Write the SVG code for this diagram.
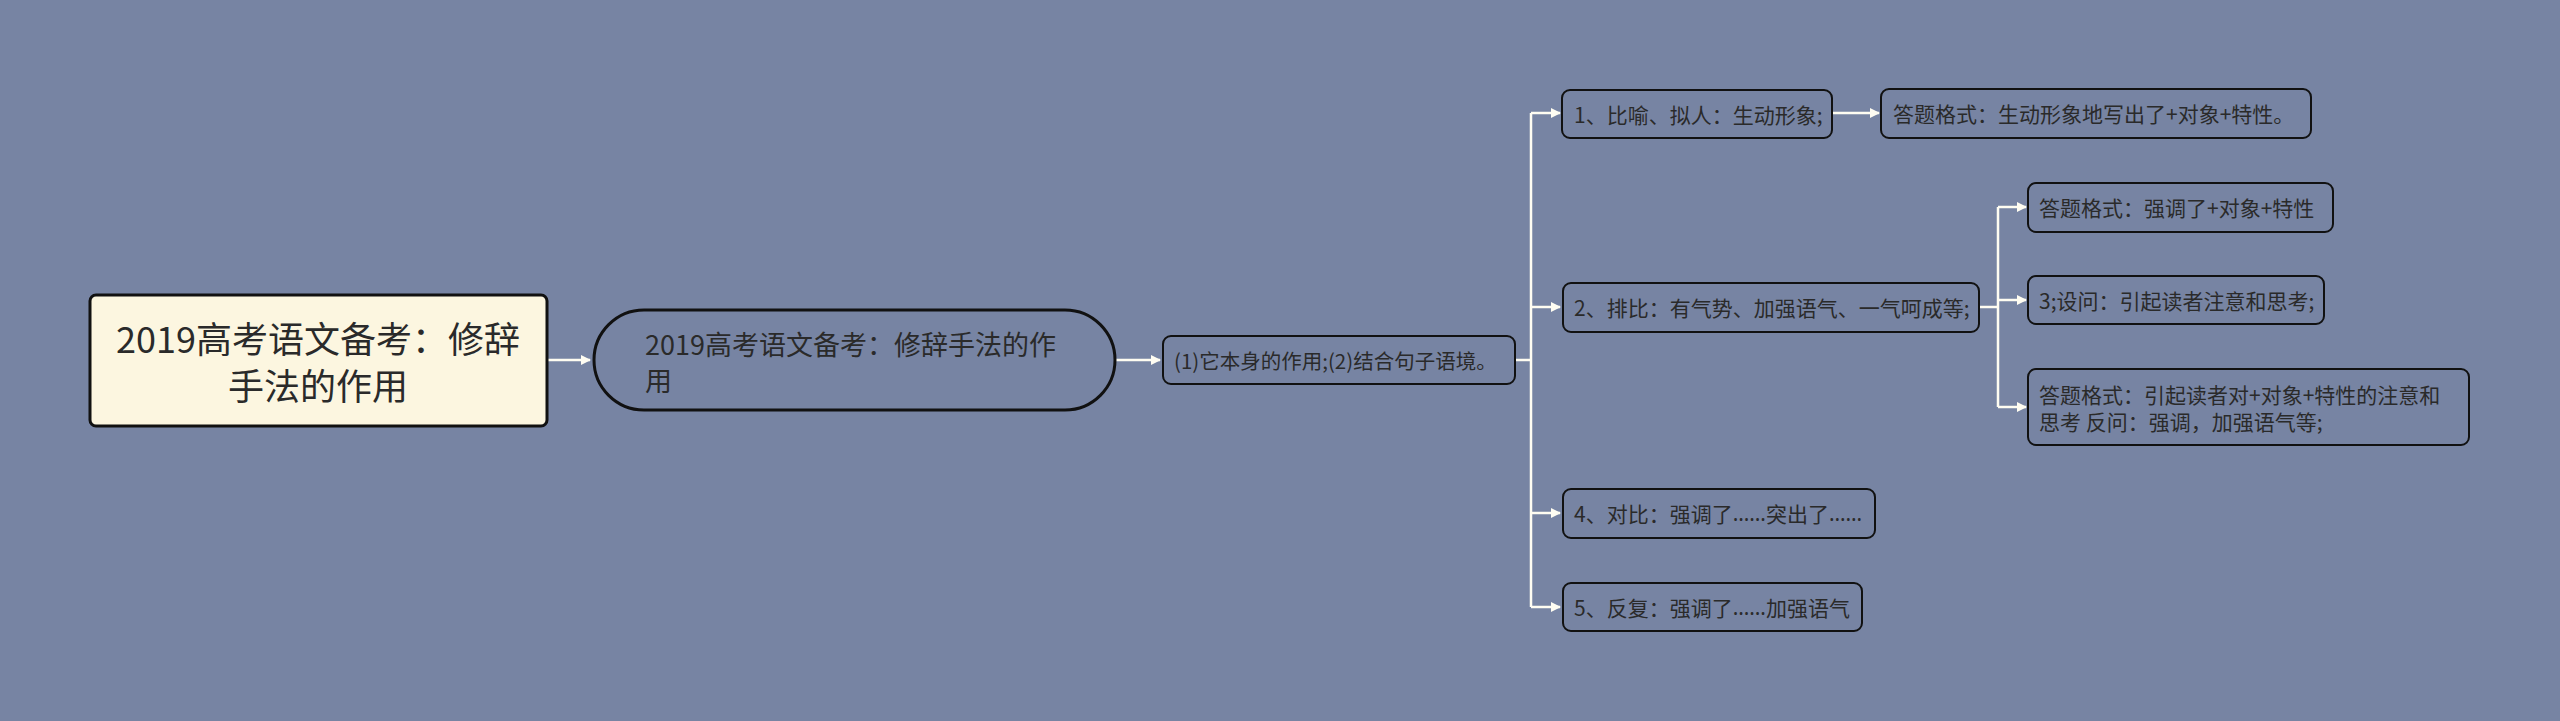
<svg xmlns="http://www.w3.org/2000/svg" width="2560" height="721" viewBox="0 0 2560 721">
<defs>
<style>
.bg{fill:#7784A3}
.node{fill:#7784A3;stroke:#111;stroke-width:2}
.root{fill:#FCF6E0;stroke:#111;stroke-width:3}
.t{font-family:"Noto Sans CJK SC","Noto Sans",sans-serif;fill:#2a2a2a;dominant-baseline:central}
.s{font-size:21px}
.el{font-family:"Noto Sans","Noto Sans CJK SC",sans-serif}
.conn{fill:none;stroke:#FFFDF2;stroke-width:2.5}
</style>
<marker id="arr" viewBox="0 0 10 10" refX="9" refY="5" markerWidth="4" markerHeight="4" orient="auto" markerUnits="strokeWidth">
<path d="M0,0 L10,5 L0,10 z" fill="#FFFDF2"/>
</marker>
</defs>
<rect class="bg" x="0" y="0" width="2560" height="721"/>
<g id="connectors">
<path class="conn" d="M547,360 H590" marker-end="url(#arr)"/>
<path class="conn" d="M1115,360 H1160" marker-end="url(#arr)"/>
<path class="conn" d="M1515,360 H1531"/>
<path class="conn" d="M1531,113 V607"/>
<path class="conn" d="M1531,113 H1560" marker-end="url(#arr)"/>
<path class="conn" d="M1531,307 H1560" marker-end="url(#arr)"/>
<path class="conn" d="M1531,513 H1560" marker-end="url(#arr)"/>
<path class="conn" d="M1531,607 H1560" marker-end="url(#arr)"/>
<path class="conn" d="M1832,113 H1879" marker-end="url(#arr)"/>
<path class="conn" d="M1979,307 H1998"/>
<path class="conn" d="M1998,207 V407"/>
<path class="conn" d="M1998,207 H2026" marker-end="url(#arr)"/>
<path class="conn" d="M1998,300 H2026" marker-end="url(#arr)"/>
<path class="conn" d="M1998,407 H2026" marker-end="url(#arr)"/>
</g>
<g id="root">
<rect class="root" x="90" y="295" width="457" height="131" rx="6"/>
<text class="t" x="318" y="337" font-size="36" text-anchor="middle">2019高考语文备考：修辞</text>
<text class="t" x="318" y="384" font-size="36" text-anchor="middle">手法的作用</text>
</g>
<g id="n2">
<rect class="node" x="594" y="310" width="521" height="100" rx="50" style="stroke-width:3"/>
<text class="t" x="645" y="343" font-size="27">2019高考语文备考：修辞手法的作</text>
<text class="t" x="645" y="379" font-size="27">用</text>
</g>
<g id="n3">
<rect class="node" x="1163" y="336" width="352" height="48" rx="8"/>
<text class="t" x="1174" y="360" font-size="20.5">(1)它本身的作用;(2)结合句子语境。</text>
</g>
<g id="l1">
<rect class="node" x="1562" y="90" width="270" height="48" rx="8"/>
<text class="t s" x="1574" y="114">1、比喻、拟人：生动形象;</text>
</g>
<g id="l1a">
<rect class="node" x="1881" y="89" width="430" height="49" rx="8"/>
<text class="t s" x="1893" y="113">答题格式：生动形象地写出了+对象+特性。</text>
</g>
<g id="l2">
<rect class="node" x="1563" y="283" width="416" height="49" rx="8"/>
<text class="t s" x="1574" y="307">2、排比：有气势、加强语气、一气呵成等;</text>
</g>
<g id="l2a">
<rect class="node" x="2028" y="183" width="305" height="49" rx="8"/>
<text class="t s" x="2039" y="207">答题格式：强调了+对象+特性</text>
</g>
<g id="l2b">
<rect class="node" x="2028" y="276" width="296" height="48" rx="8"/>
<text class="t s" x="2039" y="300">3;设问：引起读者注意和思考;</text>
</g>
<g id="l2c">
<rect class="node" x="2028" y="369" width="441" height="76" rx="8"/>
<text class="t s" x="2039" y="394">答题格式：引起读者对+对象+特性的注意和</text>
<text class="t s" x="2039" y="421">思考 反问：强调，加强语气等;</text>
</g>
<g id="l4">
<rect class="node" x="1563" y="489" width="312" height="49" rx="8"/>
<text class="t s" x="1574" y="513">4、对比：强调了<tspan class="el">……</tspan>突出了<tspan class="el">……</tspan></text>
</g>
<g id="l5">
<rect class="node" x="1563" y="583" width="299" height="48" rx="8"/>
<text class="t s" x="1574" y="607">5、反复：强调了<tspan class="el">……</tspan>加强语气</text>
</g>
</svg>
